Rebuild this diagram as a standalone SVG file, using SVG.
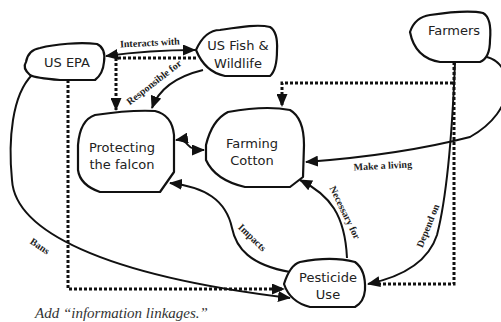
<svg xmlns="http://www.w3.org/2000/svg" width="501" height="322" viewBox="0 0 501 322">
<defs>
<marker id="ah" markerUnits="userSpaceOnUse" markerWidth="13" markerHeight="11" refX="12" refY="5.5" orient="auto-start-reverse" viewBox="0 0 13 11">
<path d="M0 0 L13 5.5 L0 11 Z" fill="#111"/>
</marker>
<style>
.node path{fill:#fff;stroke:#111;stroke-width:2.2;stroke-linejoin:round}
.node text{font-family:"DejaVu Sans","Noto Sans",sans-serif;font-size:13px;fill:#222;text-anchor:middle}
.edge{fill:none;stroke:#111;stroke-width:2}
.dot{fill:none;stroke:#111;stroke-width:3;stroke-dasharray:3 2}
.lbl{font-family:"Liberation Serif","Times New Roman",serif;font-weight:bold;font-size:10px;fill:#222;text-anchor:middle}
.cap{font-family:"Liberation Serif","Times New Roman",serif;font-style:italic;font-size:15px;fill:#333}
</style>
</defs>
<rect width="501" height="322" fill="#fff"/>
<g id="connectors">
<path class="edge" d="M106 56 Q150 50 195 50" marker-start="url(#ah)" marker-end="url(#ah)"/>
<path class="dot" d="M196 58 L116 58 L116 110" marker-end="url(#ah)"/>
<path class="edge" d="M203 70 Q162 80 152 108" marker-end="url(#ah)"/>
<path class="edge" d="M176 140 C182 139 185 141 188 145 C191 149 196 150 204 150" marker-start="url(#ah)" marker-end="url(#ah)"/>
<path class="dot" d="M453 83 L282 83 L282 106" marker-end="url(#ah)"/>
<path class="dot" d="M454 62 L454 284 L380 284"/>
<path class="edge" d="M487 57 C515 65 518 110 470 137 Q400 155 306 162" marker-end="url(#ah)"/>
<path class="edge" d="M455 62 C452 140 446 200 437 235 Q425 272 368 284" marker-end="url(#ah)"/>
<path class="edge" d="M347 258 C345 215 330 195 300 180" marker-end="url(#ah)"/>
<path class="edge" d="M290 272 C250 265 236 248 232 228 C226 200 205 187 170 183" marker-end="url(#ah)"/>
<path class="edge" d="M32 75 C12 95 8 140 12 180 C15 230 100 275 290 298" marker-end="url(#ah)"/>
<path class="dot" d="M68 80 L68 289 L284 289" marker-end="url(#ah)"/>
<text class="lbl" x="150" y="46" transform="rotate(-3 150 46)">Interacts with</text>
<text class="lbl" x="156" y="85" transform="rotate(-38 156 85)">Responsible for</text>
<text class="lbl" x="383" y="169" transform="rotate(-3 383 169)">Make a living</text>
<text class="lbl" x="431" y="227" transform="rotate(-68 431 227)">Depend on</text>
<text class="lbl" x="342" y="214" transform="rotate(64 342 214)">Necessary for</text>
<text class="lbl" x="250" y="240" transform="rotate(44 250 240)">Impacts</text>
<text class="lbl" x="38" y="249" transform="rotate(34 38 249)">Bans</text>
</g>
<g id="us-epa" class="node">
<path d="M26 62 Q28 50 40 48 C55 44 80 42 97 44 Q106 48 104 62 Q103 74 95 80 L60 80 Q35 78 30 75 Q22 68 26 62 Z"/>
<text x="67" y="67">US EPA</text>
</g>
<g id="us-fish-wildlife" class="node">
<path d="M196 50 Q205 30 220 30 C240 27 258 24 270 27 Q278 32 277 50 Q277 70 270 76 L225 76 Q205 72 196 50 Z"/>
<text x="238" y="50">US Fish &amp;</text>
<text x="238" y="68">Wildlife</text>
</g>
<g id="farmers" class="node">
<path d="M410 32 Q415 17 430 15 C450 12 470 10 483 13 Q492 18 490 40 Q490 58 480 62 L440 62 Q415 58 410 32 Z"/>
<text x="454" y="35">Farmers</text>
</g>
<g id="protecting-the-falcon" class="node">
<path d="M78 145 Q80 120 95 115 C115 112 135 110 155 111 Q172 115 174 135 L174 172 L160 192 L100 192 Q80 185 78 170 Z"/>
<text x="122" y="152">Protecting</text>
<text x="122" y="169">the falcon</text>
</g>
<g id="farming-cotton" class="node">
<path d="M206 145 Q212 120 228 112 C250 108 270 106 290 110 Q304 118 304 145 L303 177 L290 187 L245 187 Q215 180 206 160 Z"/>
<text x="252" y="148">Farming</text>
<text x="252" y="165">Cotton</text>
</g>
<g id="pesticide-use" class="node">
<path d="M284 284 Q290 265 300 262 C320 258 340 258 355 262 Q366 270 365 290 Q364 302 355 307 L310 307 Q290 302 284 284 Z"/>
<text x="328" y="282">Pesticide</text>
<text x="328" y="299">Use</text>
</g>
<text class="cap" x="35" y="318">Add “information linkages.”</text>
</svg>
